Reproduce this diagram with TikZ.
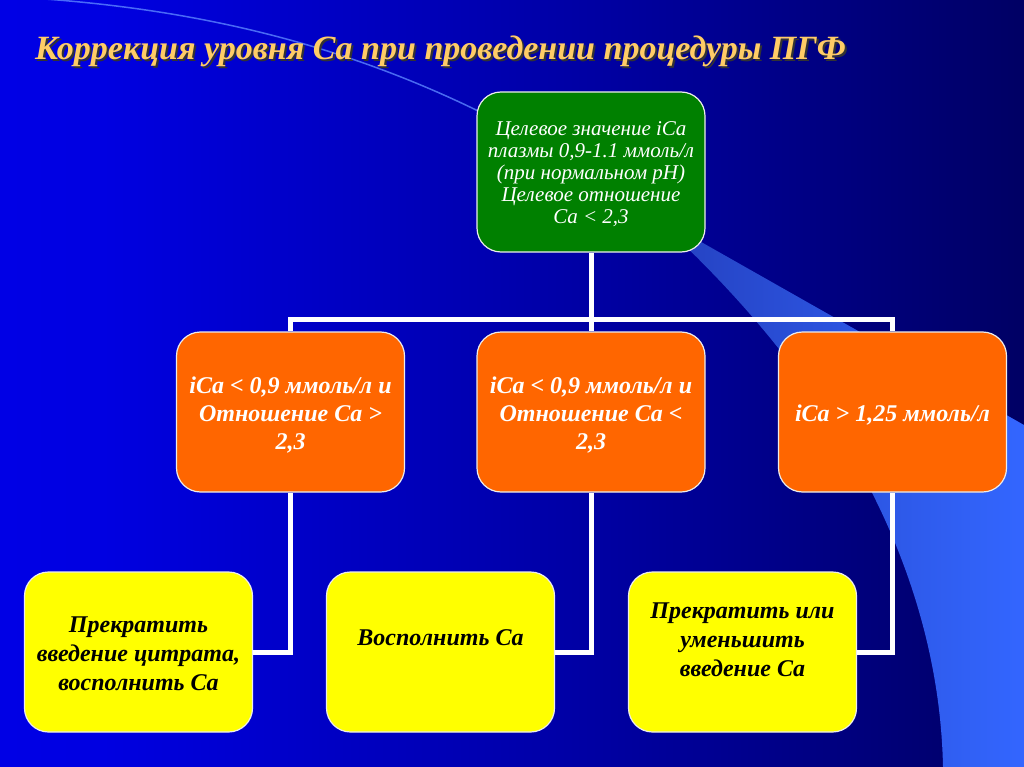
\documentclass[tikz,border=0pt]{standalone}
\usepackage{fontspec}
\setmainfont{Liberation Serif}
\usetikzlibrary{positioning}
\definecolor{bgA}{RGB}{0,0,250}
\definecolor{bgB}{RGB}{0,0,225}
\definecolor{bgC}{RGB}{0,0,160}
\definecolor{bgD}{RGB}{0,0,100}
\definecolor{bgE}{RGB}{0,0,40}
\definecolor{sweepdark}{RGB}{36,64,190}
\definecolor{sweeplight}{RGB}{51,102,255}
\definecolor{tgreen}{RGB}{0,128,0}
\definecolor{torange}{RGB}{255,102,0}
\definecolor{tyellow}{RGB}{255,255,0}
\definecolor{tgold}{RGB}{255,204,102}
\pgfdeclarehorizontalshading{slidebg}{100bp}{color(0bp)=(bgA); color(30bp)=(bgB); color(55bp)=(bgC); color(75bp)=(bgD); color(90bp)=(bgE); color(100bp)=(black)}

\begin{document}
\begin{tikzpicture}[x=1pt,y=-1pt,
	box/.style={rounded corners=24pt, draw=white!85!gray, line width=1.2pt, minimum width=228pt, minimum height=160pt, inner sep=0pt},
	gbox/.style={box, fill=tgreen},
	obox/.style={box, fill=torange},
	ybox/.style={box, fill=tyellow},
	gtext/.style={text=white, align=center, font=\itshape\fontsize{21}{22}\selectfont},
	otext/.style={text=white, align=center, font=\bfseries\itshape\fontsize{24}{28}\selectfont},
	ytext/.style={text=black, align=center, font=\bfseries\itshape\fontsize{24}{29}\selectfont},
	title/.style={anchor=base west, inner sep=0pt, font=\bfseries\itshape\fontsize{34}{40}\selectfont},
	link/.style={draw=white, line width=5pt},
	linkshade/.style={draw=gray!70, line width=5pt, shift={(1.5,1.5)}}]
			\useasboundingbox (0,0) rectangle (1024,767);
			\shade[shading=slidebg] (0,0) rectangle (1024,767);
			% sweep
			\shade[left color=sweepdark, right color=sweeplight] (650,213) -- (1024,425) -- (1024,767) -- (943,767) .. controls (940,620) and (880,420) .. (650,213) -- cycle;
			\draw[sweeplight!80!white, opacity=0.8, line width=1.5pt] (30,-2) .. controls (250,12) and (430,70) .. (600,180);
			% title
			\node[title, text=black!80] (titleshade) at (37,62) {Коррекция уровня Са при проведении процедуры ПГФ};
			\node[title, text=tgold] (titel) at (35,60) {Коррекция уровня Са при проведении процедуры ПГФ};
			% boxes
			\node[gbox] (g) at (591,172) {};
			\node[obox] (o1) at (290.5,412) {};
			\node[obox] (o2) at (591,412) {};
			\node[obox] (o3) at (892.5,412) {};
			\node[ybox] (y1) at (138.5,652) {};
			\node[ybox] (y2) at (440.5,652) {};
			\node[ybox] (y3) at (742.5,652) {};
			\coordinate (bus) at (591,319);
			% connectors
			\foreach \s in {linkshade,link} {
				\draw[\s] (g.south) -- (bus);
				\draw[\s] (o1.north) |- (bus) -| (o3.north);
				\draw[\s] (bus) -- (o2.north);
				\draw[\s] (o1.south) |- (y1.east);
				\draw[\s] (o2.south) |- (y2.east);
				\draw[\s] (o3.south) |- (y3.east);
			}
			% texts
			\node[gtext] (gt) at (591,174) {Целевое значение iCa\\плазмы 0,9-1.1 ммоль/л\\(при нормальном pH)\\Целевое отношение\\Ca < 2,3};
			\node[otext] (ot1) at (290.5,415) {iCa < 0,9 ммоль/л и\\Отношение Ca >\\2,3};
			\node[otext] (ot2) at (591,415) {iCa < 0,9 ммоль/л и\\Отношение Ca <\\2,3};
			\node[otext] (ot3) at (892.5,415) {iCa > 1,25 ммоль/л};
			\node[ytext] (yt1) at (138.5,654) {Прекратить\\введение цитрата,\\восполнить Ca};
			\node[ytext] (yt2) at (440.5,638) {Восполнить Ca};
			\node[ytext] (yt3) at (742.5,640) {Прекратить или\\уменьшить\\введение Ca};
	    \end{tikzpicture}
\end{document}
